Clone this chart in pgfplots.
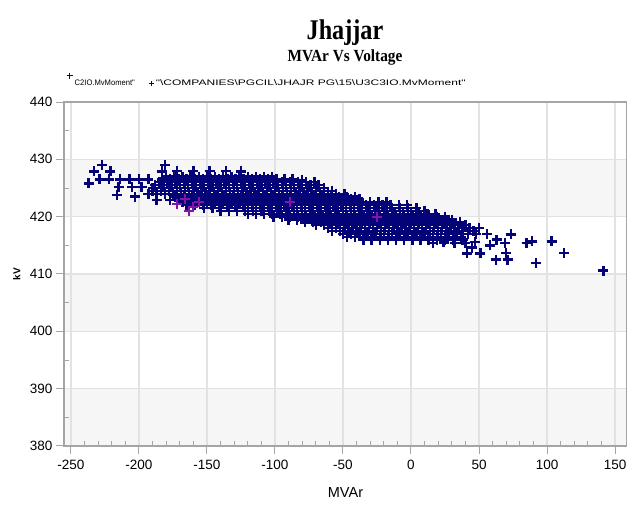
\documentclass[border=0pt]{standalone}
\usepackage{fontspec}
\setmainfont{Liberation Sans}
\newfontfamily\titlefont[FakeStretch=0.85]{Liberation Serif}
\newfontfamily\subfont[FakeStretch=0.9]{Liberation Serif}
\newfontfamily\legfont[FakeStretch=0.95]{Liberation Sans}
\newfontfamily\widefont[FakeStretch=1.5]{Liberation Sans}
\usepackage{pgfplots}
\pgfplotsset{compat=1.18}
\definecolor{navyp}{RGB}{4,4,120}
\definecolor{purp}{RGB}{130,20,170}
\definecolor{gridc}{RGB}{226,226,226}
\definecolor{axc}{RGB}{165,165,165}
\definecolor{bandc}{RGB}{246,246,246}
\begin{document}
\begin{tikzpicture}
\begin{axis}[
  set layers,
  at={(0pt,0pt)}, anchor=south west,
  width=563pt, height=344pt, scale only axis,
  xmin=-255.1, xmax=158.8, ymin=380, ymax=440,
  xtick={-250,-200,...,150}, ytick={380,390,...,440},
  xtick pos=bottom, ytick pos=left,
  minor x tick num=4, minor y tick num=1,
  tick align=outside,
  major tick length=8pt,
  minor tick length=-5pt,
  tick style={axc, line width=1pt},
  minor tick style={axc, line width=0.9pt},
  axis line style={axc, line width=1.6pt},
  grid=major,
  major grid style={gridc, line width=1.2pt},
  ticklabel style={font=\fontsize{13.5}{14}\selectfont},
  xticklabel style={yshift=-3pt},
  /pgf/number format/assume math mode=true,
  xlabel={\fontsize{14.5}{15}\selectfont MVAr},
  ylabel={\bfseries\fontsize{10}{11}\selectfont kV},
  xlabel style={at={(axis description cs:0.5,-0.134)}, anchor=center},
  ylabel style={at={(axis description cs:-0.084,0.5)}, anchor=center},
  legend columns=2,
  legend style={at={(0,1)}, anchor=south west, xshift=-3pt, yshift=13pt, draw=none, fill=none,
    font=\legfont\fontsize{8}{8.5}\selectfont, row sep=-1pt, inner sep=0pt,
    /tikz/every even column/.append style={column sep=6pt}},
  legend cell align=left,
]
\addplot[forget plot, draw=none, fill=bandc, on layer=axis background] coordinates {(-255.1,380)(158.8,380)(158.8,390)(-255.1,390)(-255.1,380)};
\addplot[forget plot, draw=none, fill=bandc, on layer=axis background] coordinates {(-255.1,400)(158.8,400)(158.8,410)(-255.1,410)(-255.1,400)};
\addplot[forget plot, draw=none, fill=bandc, on layer=axis background] coordinates {(-255.1,420)(158.8,420)(158.8,430)(-255.1,430)(-255.1,420)};
% series 1 (navy)
\addplot[forget plot, only marks, mark=+, mark size=5pt, navyp, mark options={draw=navyp, line width=2.4pt}] coordinates {
(-237,425.8)(-233,427.9)(-227,429)(-221,427.9)(-216,423.8)(-203,423.5)(-187,422.9)(-177,422.9)
(-181,429)(-183,427.9)(-172,428)(-160,428)(-148,428)(-136,428)(-125,427.9)(-80,426.4)
(-229,426.5)(-222,426.5)(-214,426.5)(-207,426.5)(-200,426.5)(-193,426.5)
(-215,425.2)(-205,425.2)(-198,425.2)
(-180,427)(-174,427)(-168,427)(-162,427)(-156,427)(-150,427)(-144,427)(-138,427)(-132,427)(-126,427)(-120,427)(-114,427)(-108,427)(-102,427)
(-183,426.5)(-177,426.5)(-171,426.5)(-165,426.5)(-159,426.5)(-153,426.5)(-147,426.5)(-141,426.5)(-135,426.5)(-129,426.5)(-123,426.5)(-117,426.5)(-111,426.5)(-105,426.5)(-99,426.5)(-93,426.5)(-87,426.5)
(-185,426)(-179,426)(-173,426)(-167,426)(-161,426)(-155,426)(-149,426)(-143,426)(-137,426)(-131,426)(-125,426)(-119,426)(-113,426)(-107,426)(-101,426)(-95,426)(-89,426)(-83,426)(-77,426)(-71,426)
(-188,425.5)(-182,425.5)(-176,425.5)(-170,425.5)(-164,425.5)(-158,425.5)(-152,425.5)(-146,425.5)(-140,425.5)(-134,425.5)(-128,425.5)(-122,425.5)(-116,425.5)(-110,425.5)(-104,425.5)(-98,425.5)(-92,425.5)(-86,425.5)(-80,425.5)(-74,425.5)(-68,425.5)
(-190,425)(-184,425)(-178,425)(-172,425)(-166,425)(-160,425)(-154,425)(-148,425)(-142,425)(-136,425)(-130,425)(-124,425)(-118,425)(-112,425)(-106,425)(-100,425)(-94,425)(-88,425)(-82,425)(-76,425)(-70,425)(-64,425)
(-190,424.5)(-184,424.5)(-178,424.5)(-172,424.5)(-166,424.5)(-160,424.5)(-154,424.5)(-148,424.5)(-142,424.5)(-136,424.5)(-130,424.5)(-124,424.5)(-118,424.5)(-112,424.5)(-106,424.5)(-100,424.5)(-94,424.5)(-88,424.5)(-82,424.5)(-76,424.5)(-70,424.5)(-64,424.5)(-58,424.5)
(-193,424)(-187,424)(-181,424)(-175,424)(-169,424)(-163,424)(-157,424)(-151,424)(-145,424)(-139,424)(-133,424)(-127,424)(-121,424)(-115,424)(-109,424)(-103,424)(-97,424)(-91,424)(-85,424)(-79,424)(-73,424)(-67,424)(-61,424)(-55,424)(-49,424)
(-173,423.5)(-167,423.5)(-161,423.5)(-155,423.5)(-149,423.5)(-143,423.5)(-137,423.5)(-131,423.5)(-125,423.5)(-119,423.5)(-113,423.5)(-107,423.5)(-101,423.5)(-95,423.5)(-89,423.5)(-83,423.5)(-77,423.5)(-71,423.5)(-65,423.5)(-59,423.5)(-53,423.5)(-47,423.5)(-41,423.5)
(-170,423)(-164,423)(-158,423)(-152,423)(-146,423)(-140,423)(-134,423)(-128,423)(-122,423)(-116,423)(-110,423)(-104,423)(-98,423)(-92,423)(-86,423)(-80,423)(-74,423)(-68,423)(-62,423)(-56,423)(-50,423)(-44,423)(-38,423)
(-168,422.5)(-162,422.5)(-156,422.5)(-150,422.5)(-144,422.5)(-138,422.5)(-132,422.5)(-126,422.5)(-120,422.5)(-114,422.5)(-108,422.5)(-102,422.5)(-96,422.5)(-90,422.5)(-84,422.5)(-78,422.5)(-72,422.5)(-66,422.5)(-60,422.5)(-54,422.5)(-48,422.5)(-42,422.5)(-36,422.5)(-30,422.5)(-24,422.5)(-18,422.5)
(-165,422)(-159,422)(-153,422)(-147,422)(-141,422)(-135,422)(-129,422)(-123,422)(-117,422)(-111,422)(-105,422)(-99,422)(-93,422)(-87,422)(-81,422)(-75,422)(-69,422)(-63,422)(-57,422)(-51,422)(-45,422)(-39,422)(-33,422)(-27,422)(-21,422)(-15,422)(-9,422)(-3,422)
(-152,421.5)(-146,421.5)(-140,421.5)(-134,421.5)(-128,421.5)(-122,421.5)(-116,421.5)(-110,421.5)(-104,421.5)(-98,421.5)(-92,421.5)(-86,421.5)(-80,421.5)(-74,421.5)(-68,421.5)(-62,421.5)(-56,421.5)(-50,421.5)(-44,421.5)(-38,421.5)(-32,421.5)(-26,421.5)(-20,421.5)(-14,421.5)(-8,421.5)(-2,421.5)(4,421.5)
(-140,421)(-134,421)(-128,421)(-122,421)(-116,421)(-110,421)(-104,421)(-98,421)(-92,421)(-86,421)(-80,421)(-74,421)(-68,421)(-62,421)(-56,421)(-50,421)(-44,421)(-38,421)(-32,421)(-26,421)(-20,421)(-14,421)(-8,421)(-2,421)(4,421)(10,421)
(-120,420.5)(-114,420.5)(-108,420.5)(-102,420.5)(-96,420.5)(-90,420.5)(-84,420.5)(-78,420.5)(-72,420.5)(-66,420.5)(-60,420.5)(-54,420.5)(-48,420.5)(-42,420.5)(-36,420.5)(-30,420.5)(-24,420.5)(-18,420.5)(-12,420.5)(-6,420.5)(0,420.5)(6,420.5)(12,420.5)(18,420.5)
(-101,420)(-95,420)(-89,420)(-83,420)(-77,420)(-71,420)(-65,420)(-59,420)(-53,420)(-47,420)(-41,420)(-35,420)(-29,420)(-23,420)(-17,420)(-11,420)(-5,420)(1,420)(7,420)(13,420)(19,420)(25,420)
(-90,419.5)(-84,419.5)(-78,419.5)(-72,419.5)(-66,419.5)(-60,419.5)(-54,419.5)(-48,419.5)(-42,419.5)(-36,419.5)(-30,419.5)(-24,419.5)(-18,419.5)(-12,419.5)(-6,419.5)(0,419.5)(6,419.5)(12,419.5)(18,419.5)(24,419.5)(30,419.5)
(-78,419)(-72,419)(-66,419)(-60,419)(-54,419)(-48,419)(-42,419)(-36,419)(-30,419)(-24,419)(-18,419)(-12,419)(-6,419)(0,419)(6,419)(12,419)(18,419)(24,419)(30,419)(36,419)
(-70,418.5)(-64,418.5)(-58,418.5)(-52,418.5)(-46,418.5)(-40,418.5)(-34,418.5)(-28,418.5)(-22,418.5)(-16,418.5)(-10,418.5)(-4,418.5)(2,418.5)(8,418.5)(14,418.5)(20,418.5)(26,418.5)(32,418.5)(40,418.5)
(-61,418)(-55,418)(-49,418)(-43,418)(-37,418)(-31,418)(-25,418)(-19,418)(-13,418)(-7,418)(-1,418)(5,418)(11,418)(17,418)(23,418)(29,418)(35,418)(43,418)(50,418)
(-58,417.5)(-52,417.5)(-46,417.5)(-40,417.5)(-34,417.5)(-28,417.5)(-22,417.5)(-16,417.5)(-10,417.5)(-4,417.5)(2,417.5)(8,417.5)(14,417.5)(20,417.5)(26,417.5)(32,417.5)(38,417.5)(46,417.5)
(-50,417)(-44,417)(-38,417)(-32,417)(-26,417)(-20,417)(-14,417)(-8,417)(-2,417)(4,417)(10,417)(16,417)(22,417)(28,417)(34,417)(42,417)(48,417)(56,417)
(-47,416.5)(-41,416.5)(-35,416.5)(-29,416.5)(-23,416.5)(-17,416.5)(-11,416.5)(-5,416.5)(1,416.5)(7,416.5)(13,416.5)(19,416.5)(25,416.5)(31,416.5)(37,416.5)
(-35,416)(-29,416)(-23,416)(-17,416)(-11,416)(-5,416)(1,416)(7,416)(13,416)(19,416)(25,416)(31,416)(38,416)
(73.5,416.9)(63,416)(58,415)(69,415.4)(85,415.4)(89,415.7)(103.4,415.7)(16,415.4)(24,415.5)(32,415.4)(40,415.4)(47,415.6)
(45,414.6)(41,413.6)(51,413.6)(70,413.7)(112.7,413.7)(62.3,412.5)(71,412.5)(92,411.9)(141.4,410.6)
};
% series 2 (purple)
\addplot[forget plot, only marks, mark=+, mark size=5pt, purp, mark options={draw=purp, line width=2pt}] coordinates {
(-172,422.2)(-166,423)(-160,421.6)(-156,422.6)(-163,421)(-89,422.6)(-25,420)
};
\addlegendimage{only marks, mark=+, mark size=3pt, navyp, mark options={draw=navyp, line width=1pt}}
\addlegendentry{}
\addlegendimage{empty legend}
\addlegendentry{}
\addlegendimage{empty legend}
\addlegendentry{C2IO.MvMoment"}
\addlegendimage{only marks, mark=+, mark size=2.5pt, navyp, mark options={draw=navyp, line width=0.8pt}}
\addlegendentry{\widefont"\textbackslash COMPANIES\textbackslash PGCIL\textbackslash JHAJR PG\textbackslash 15\textbackslash U3C3IO.MvMoment"}
\end{axis}
\node[anchor=base, font=\titlefont\bfseries\fontsize{28.5}{30}\selectfont] at (281pt,406pt) {Jhajjar};
\node[anchor=base, font=\subfont\bfseries\fontsize{17}{18}\selectfont] at (281pt,384pt) {MVAr Vs Voltage};
\pgfresetboundingbox
\path[use as bounding box] (-64pt,-62pt) rectangle (563pt,446pt);
\end{tikzpicture}
\end{document}
